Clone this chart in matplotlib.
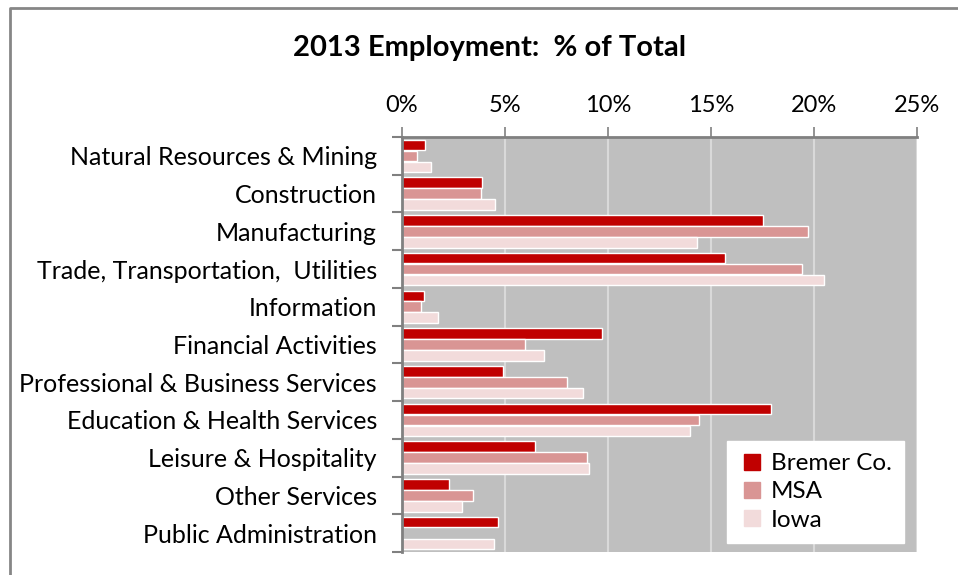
import matplotlib.pyplot as plt
import numpy as np
from matplotlib.lines import Line2D
from matplotlib.ticker import FuncFormatter

plt.rcParams['font.family'] = ['Lato', 'DejaVu Sans']

categories = ["Natural Resources & Mining", "Construction", "Manufacturing",
              "Trade, Transportation,  Utilities", "Information",
              "Financial Activities", "Professional & Business Services",
              "Education & Health Services", "Leisure & Hospitality",
              "Other Services", "Public Administration"]

bremer = [1.10, 3.87, 17.51, 15.68, 1.07, 9.70, 4.89, 17.89, 6.47, 2.28, 4.65]
msa = [0.74, 3.84, 19.72, 19.41, 0.92, 5.97, 8.01, 14.41, 8.97, 3.47, 0.0]
iowa = [1.40, 4.52, 14.30, 20.49, 1.73, 6.91, 8.81, 13.97, 9.10, 2.89, 4.49]

series_names = ["Bremer Co.", "MSA", "Iowa"]
colors = ["#C00000", "#D99594", "#F2DBDB"]

fig = plt.figure(figsize=(9.58, 5.75), dpi=100)
ax = fig.add_axes([402 / 958, 1 - 552 / 575, 515 / 958, 415 / 575])

y = np.arange(len(categories))
h = 0.28
step = 0.29
for k, (vals, col) in enumerate(zip([bremer, msa, iowa], colors)):
    ax.barh(y + (k - 1) * step, vals, height=h, color=col,
            edgecolor="white", linewidth=1.0, zorder=3)

ax.set_facecolor("#BFBFBF")
ax.set_xlim(0, 25)
ax.set_ylim(len(categories) - 0.5, -0.5)
ax.set_xticks(np.arange(0, 26, 5))
ax.xaxis.set_major_formatter(FuncFormatter(lambda v, p: f"{v:.0f}%"))
ax.xaxis.tick_top()
ax.grid(axis="x", color="#D9D9D9", linewidth=1.5, zorder=1)

# category ticks sit between groups, labels centred on each group
ax.set_yticks(np.arange(-0.5, len(categories) + 0.5, 1.0))
ax.set_yticklabels([])
ax.set_yticks(y, minor=True)
ax.set_yticklabels(categories, minor=True)
ax.tick_params(axis="y", which="minor", length=0, pad=18, labelsize=18)
ax.tick_params(axis="y", which="major", length=7, width=1.5, color="#808080")
ax.tick_params(axis="x", length=7, width=1.2, color="#808080",
               labelsize=17, pad=8)

for side in ["right", "bottom"]:
    ax.spines[side].set_visible(False)
for side in ["left", "top"]:
    ax.spines[side].set_color("#808080")
    ax.spines[side].set_linewidth(2)
    ax.spines[side].set_zorder(4)

fig.text(490 / 958, 1 - 48 / 575, "2013 Employment:  % of Total",
         ha="center", va="center", fontsize=21, fontweight="bold")

handles = [Line2D([], [], marker="s", linestyle="none", markersize=11,
                  markerfacecolor=c, markeredgecolor=c) for c in colors]
leg = ax.legend(handles, series_names, loc="lower right",
                bbox_to_anchor=(0.975, 0.022), fontsize=17.5, frameon=True,
                fancybox=False, borderpad=0.5, handletextpad=0.3,
                labelspacing=0.3, handlelength=1.0, borderaxespad=0)
leg.get_frame().set_facecolor("white")
leg.get_frame().set_edgecolor("white")
leg.get_frame().set_alpha(1)
leg.set_zorder(5)

# outer chart border
fig.add_artist(Line2D([10 / 958, 10 / 958, 1.0], [0, 1 - 8 / 575, 1 - 8 / 575],
                      transform=fig.transFigure, color="#868686", linewidth=2))

fig.savefig("out.png", dpi=100)
